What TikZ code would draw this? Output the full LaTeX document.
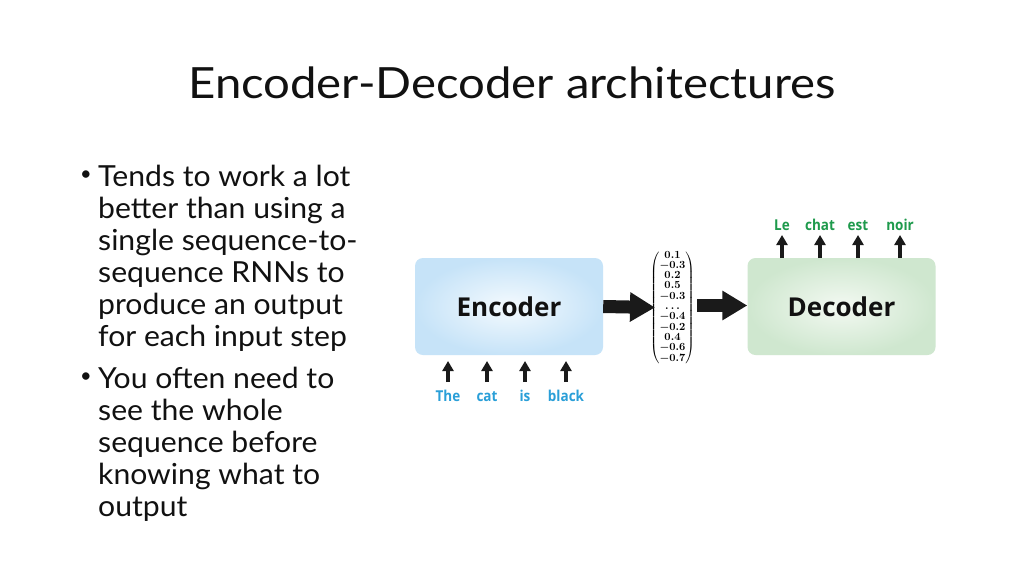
\documentclass[tikz,border=0pt]{standalone}
\usepackage[no-math]{fontspec}
\setmainfont{Lato}
\newfontfamily\titlefont[FakeStretch=1.1]{Lato}
\newfontfamily\bulletfont[FakeStretch=1.04]{Lato}
\newfontfamily\boxfont{Open Sans}
\newfontfamily\wordfont[FakeStretch=0.9]{Open Sans}
\usepackage{amsmath}
\usetikzlibrary{arrows.meta}
\definecolor{txt}{HTML}{111111}
\definecolor{encout}{HTML}{C6E3F8}
\definecolor{encin}{HTML}{F4FAFE}
\definecolor{decout}{HTML}{CFE7CF}
\definecolor{decin}{HTML}{F3F9F2}
\definecolor{inword}{HTML}{2A9FD8}
\definecolor{outword}{HTML}{1E9A4C}
\definecolor{arr}{HTML}{1A1A1A}
\newsavebox{\vecbox}
\tikzset{
  title/.style={font=\titlefont\fontsize{43}{50}\selectfont, text=txt, inner sep=0pt},
  bline/.style={font=\bulletfont\fontsize{29}{32}\selectfont, text=txt, inner sep=0pt, anchor=base west},
  bdot/.style={font=\fontsize{20}{24}\selectfont, text=txt, inner sep=0pt},
  blockbox/.style={rounded corners=8pt, minimum width=188pt, minimum height=97pt, inner sep=0pt,
     font=\boxfont\bfseries\fontsize{26}{30}\selectfont, text=txt},
  word/.style={font=\wordfont\bfseries\fontsize{15}{17}\selectfont, inner sep=0pt, anchor=base},
  smallarrow/.style={line width=3.2pt, draw=arr, -{Triangle[length=10pt,width=11pt]}},
  bigarrow/.style={line width=13pt, draw=arr, -{Triangle[length=25pt,width=28pt]}},
}
\begin{document}
\sbox{\vecbox}{\fontsize{10.5}{10}\selectfont\boldmath\renewcommand{\arraystretch}{1.03}$\left(\begin{array}{@{}c@{}}0.1\\-0.3\\0.2\\0.5\\-0.3\\\ldots\\-0.4\\-0.2\\0.4\\-0.6\\-0.7\end{array}\right)$}
\begin{tikzpicture}[x=1pt,y=-1pt]
\useasboundingbox[fill=white] (0,0) rectangle (1024,576);
\node[title, anchor=base] (t) at (512,98) {Encoder-Decoder architectures};

\node[bdot] (d1) at (86,176) {\textbullet};
\node[bline] (a1) at (98,186) {Tends to work a lot};
\node[bline] (a2) at (98,218) {better than using a};
\node[bline] (a3) at (98,250) {single sequence-to-};
\node[bline] (a4) at (98,282) {sequence RNNs to};
\node[bline] (a5) at (98,314) {produce an output};
\node[bline] (a6) at (98,346) {for each input step};
\node[bdot] (d2) at (86,378) {\textbullet};
\node[bline] (b1) at (98,388) {You often need to};
\node[bline] (b2) at (98,420) {see the whole};
\node[bline] (b3) at (98,452) {sequence before};
\node[bline] (b4) at (98,484) {knowing what to};
\node[bline] (b5) at (98,516) {output};

\node[blockbox, inner color=encin, outer color=encout] (enc) at (509,306.5) {Encoder};
\node[blockbox, inner color=decin, outer color=decout] (dec) at (841.5,306.5) {Decoder};

\node[inner sep=0pt] (vec) at (672.5,307.5) {\usebox{\vecbox}};

\draw[bigarrow] (enc.east) -- (655,307.5);
\coordinate (v2) at (697,305.5);
\draw[bigarrow] (v2) -- (dec.west |- v2);

\foreach \n/\x/\w in {i1/448/The, i2/487/cat, i3/525/is, i4/566/black}{
  \node[word, text=inword] (\n) at (\x,401) {\w};
  \coordinate (\n s) at (\x,382);
  \coordinate (\n e) at (\x,361);
  \draw[smallarrow] (\n s) -- (\n e);
}
\foreach \n/\x/\w in {o1/782/Le, o2/820/chat, o3/858/est, o4/900/noir}{
  \node[word, text=outword] (\n) at (\x,230) {\w};
  \coordinate (\n s) at (\x,258);
  \coordinate (\n e) at (\x,235);
  \draw[smallarrow] (\n s) -- (\n e);
}
\end{tikzpicture}
\end{document}
